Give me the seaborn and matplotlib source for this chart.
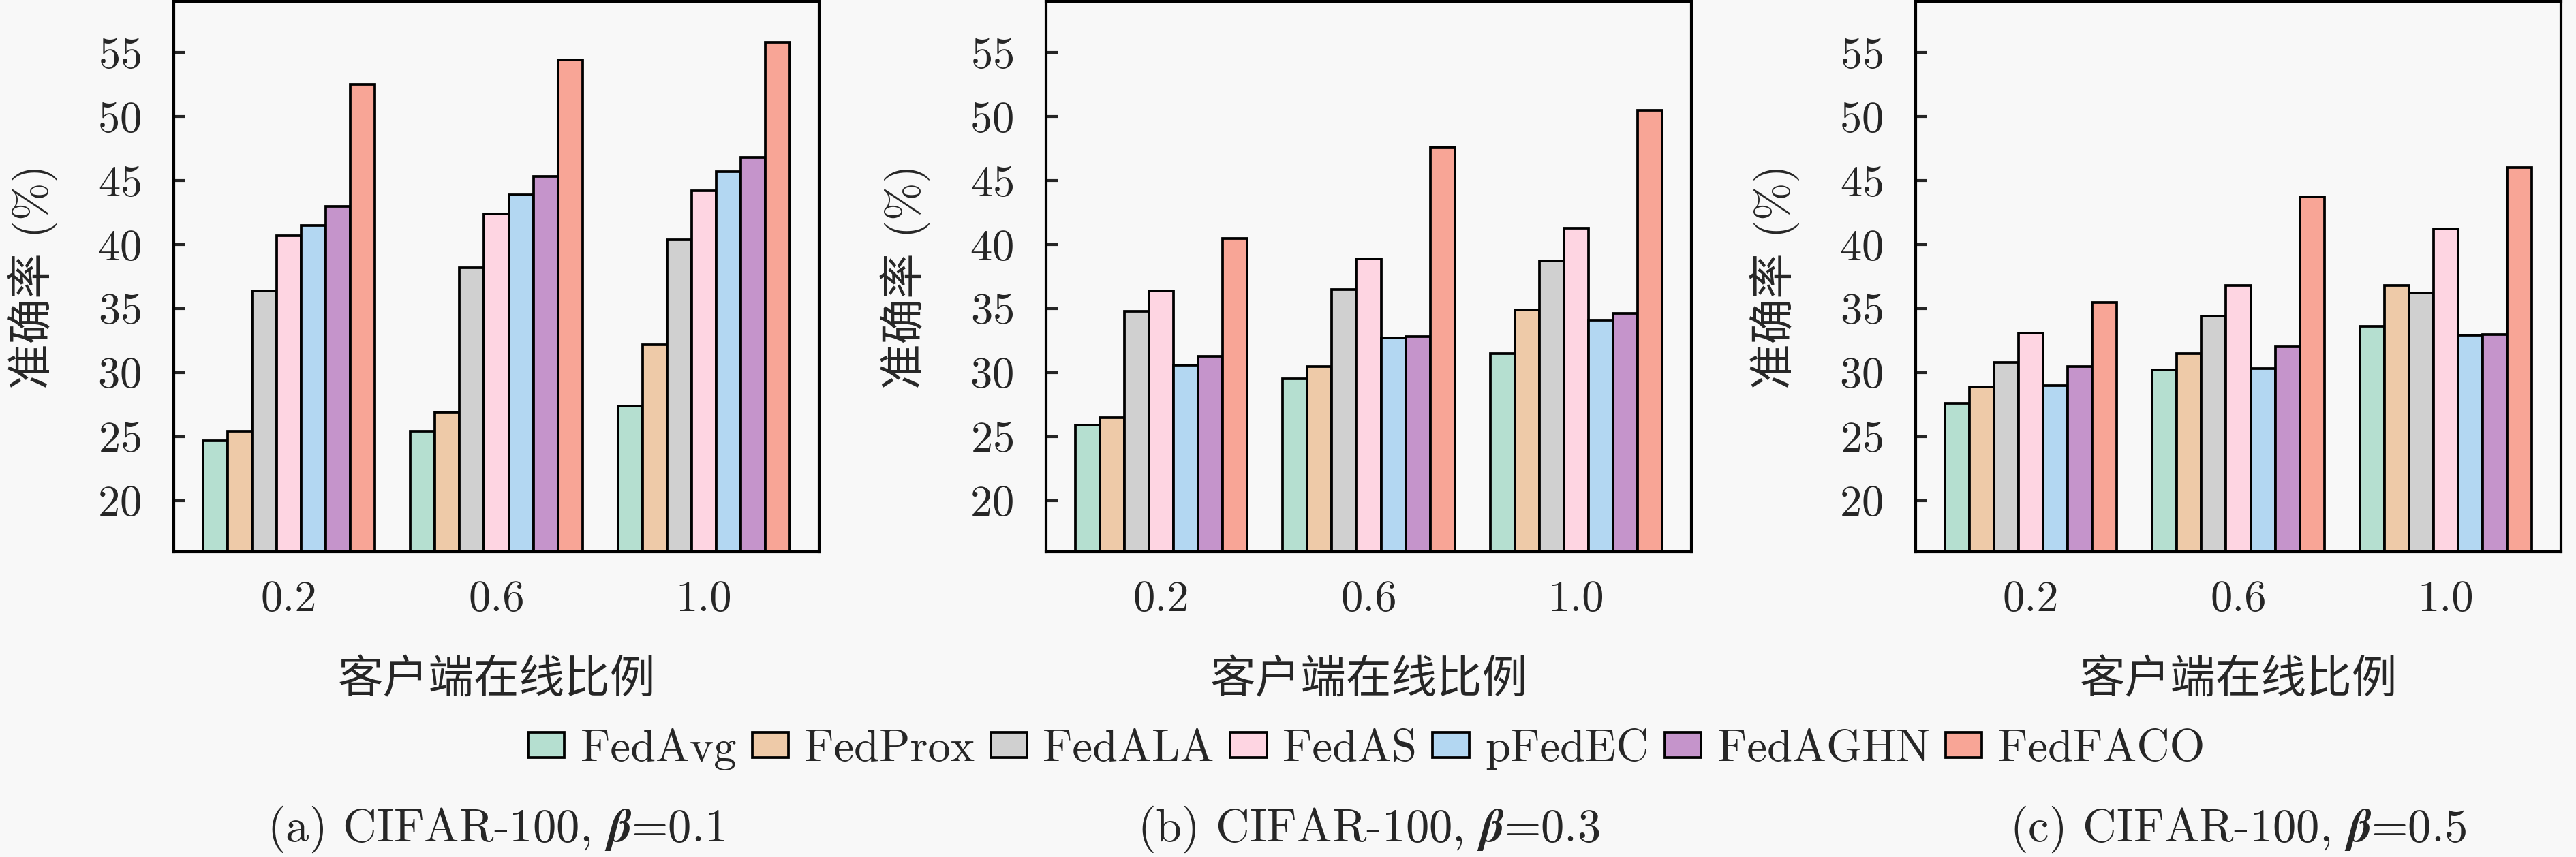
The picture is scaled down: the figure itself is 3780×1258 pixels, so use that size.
import matplotlib
matplotlib.use("Agg")
import matplotlib.pyplot as plt
import seaborn as sns
import pandas as pd

# client participation ratio (x groups)
ratios = ["0.2", "0.6", "1.0"]
methods = ["FedAvg", "FedProx", "FedALA", "FedAS", "pFedEC", "FedAGHN", "FedFACO"]
colors = ["#b5dfd0", "#eecaa8", "#d0d0d0", "#fed5e2", "#b3d7f2", "#c594cb", "#f8a596"]

# accuracy (%) per method, one value per ratio (0.2, 0.6, 1.0)
acc_beta01 = {
    "FedAvg":  [24.7, 25.4, 27.4],
    "FedProx": [25.4, 26.9, 32.2],
    "FedALA":  [36.4, 38.2, 40.4],
    "FedAS":   [40.7, 42.4, 44.2],
    "pFedEC":  [41.5, 43.9, 45.7],
    "FedAGHN": [43.0, 45.3, 46.8],
    "FedFACO": [52.5, 54.4, 55.8],
}
acc_beta03 = {
    "FedAvg":  [25.9, 29.5, 31.5],
    "FedProx": [26.5, 30.5, 34.9],
    "FedALA":  [34.8, 36.5, 38.7],
    "FedAS":   [36.4, 38.9, 41.3],
    "pFedEC":  [30.6, 32.7, 34.1],
    "FedAGHN": [31.3, 32.8, 34.6],
    "FedFACO": [40.5, 47.6, 50.5],
}
acc_beta05 = {
    "FedAvg":  [27.6, 30.2, 33.6],
    "FedProx": [28.9, 31.5, 36.8],
    "FedALA":  [30.8, 34.4, 36.2],
    "FedAS":   [33.1, 36.8, 41.2],
    "pFedEC":  [29.0, 30.3, 32.9],
    "FedAGHN": [30.5, 32.0, 33.0],
    "FedFACO": [35.5, 43.7, 46.0],
}
panels = [
    (acc_beta01, r"(a) CIFAR-100, $\boldsymbol{\beta}$=0.1"),
    (acc_beta03, r"(b) CIFAR-100, $\boldsymbol{\beta}$=0.3"),
    (acc_beta05, r"(c) CIFAR-100, $\boldsymbol{\beta}$=0.5"),
]
yticks = [20, 25, 30, 35, 40, 45, 50, 55]


def to_frame(acc):
    rows = []
    for m in methods:
        for r, v in zip(ratios, acc[m]):
            rows.append({"ratio": r, "method": m, "acc": v})
    return pd.DataFrame(rows)


sns.set_style("ticks")
bg = "#f8f8f8"
plt.rcParams["font.family"] = ["cmr10", "Noto Sans CJK SC"]
plt.rcParams["mathtext.fontset"] = "cm"
plt.rcParams["axes.formatter.use_mathtext"] = True
plt.rcParams["axes.unicode_minus"] = False

W, H = 3780, 1258
fig = plt.figure(figsize=(W / 300, H / 300), dpi=300, facecolor=bg)

lefts = [255, 1535, 2811]
ax_w = 947
ax_top, ax_bot = 2, 810

handles = None
for i, (acc, caption) in enumerate(panels):
    ax = fig.add_axes([lefts[i] / W, 1 - ax_bot / H, ax_w / W, (ax_bot - ax_top) / H])
    ax.set_facecolor(bg)
    df = to_frame(acc)
    sns.barplot(data=df, x="ratio", y="acc", hue="method", order=ratios,
                hue_order=methods, palette=colors, saturation=1, width=0.83, gap=0,
                edgecolor="black", linewidth=0.9, errorbar=None, ax=ax,
                legend=(i == 0))
    if i == 0:
        handles, labels = ax.get_legend_handles_labels()
        ax.get_legend().remove()
    ax.set_xlim(-0.555, 2.555)
    ax.set_ylim(16, 59)
    ax.set_yticks(yticks)
    for s in ax.spines.values():
        s.set_visible(True)
        s.set_color("black")
        s.set_linewidth(1.0)
    ax.tick_params(axis="both", direction="in", length=4, width=1.0,
                   labelsize=15.5, top=False, right=False)
    ax.tick_params(axis="y", pad=11.5)
    ax.tick_params(axis="x", pad=10)
    ax.set_xlabel("客户端在线比例", fontsize=16, labelpad=14)
    ax.set_ylabel("准确率 (%)", fontsize=16, labelpad=14)
    cx = (lefts[i] + ax_w / 2) / W
    fig.text(cx, 1 - 1217 / H, caption, ha="center", va="center", fontsize=16.5)

leg = fig.legend(handles, labels, loc="center", bbox_to_anchor=(2005 / W, 1 - 1100 / H),
                 ncol=7, frameon=False, fontsize=16, handlelength=0.8,
                 handleheight=0.48, handletextpad=0.35, columnspacing=0.35)

fig.savefig("out.png", dpi=300, facecolor=bg)
